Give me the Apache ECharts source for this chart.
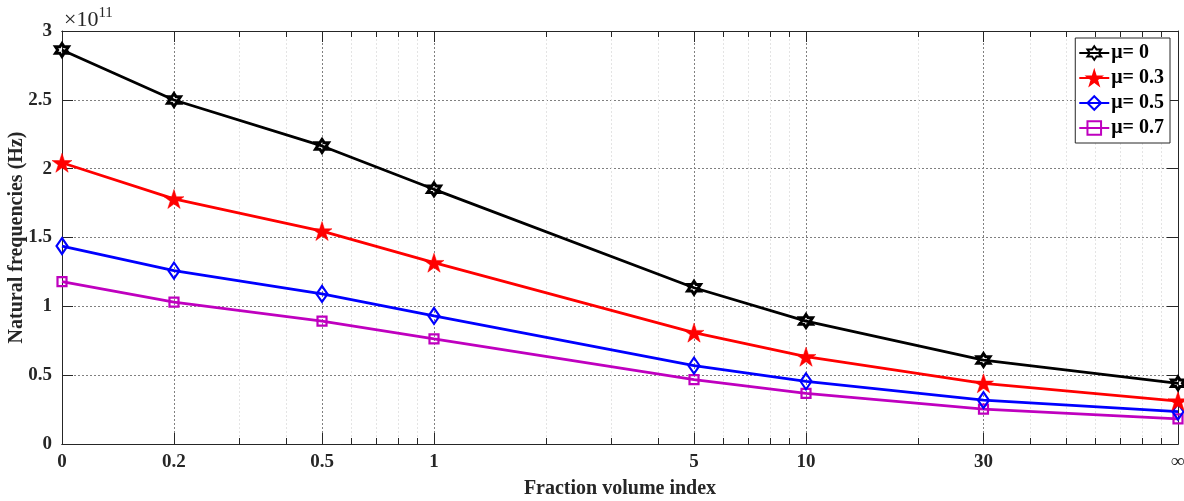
<!DOCTYPE html>
<html><head><meta charset="utf-8">
<script src="https://cdn.jsdelivr.net/npm/echarts@6/dist/echarts.min.js"></script>
<style>html,body{margin:0;padding:0;background:#fff}#c{width:1184px;height:501px}</style>
</head><body><div id="c"></div>
<script>
// x positions (log axis): "0" drawn at 0.1, "∞" drawn at 100
const xValues = [0.1, 0.2, 0.5, 1, 5, 10, 30, 100];
const xLabels = ['0', '0.2', '0.5', '1', '5', '10', '30', '∞'];
const minorTicks = [0.3,0.4,0.6,0.7,0.8,0.9,2,3,4,6,7,8,9,20,40,50,60,70,80,90];
const yTicks = [0, 0.5, 1, 1.5, 2, 2.5, 3];
// natural frequencies in units of 1e11 Hz
const mu0  = [2.862, 2.499, 2.165, 1.850, 1.135, 0.893, 0.610, 0.441];
const mu03 = [2.043, 1.780, 1.547, 1.317, 0.809, 0.634, 0.441, 0.312];
const mu05 = [1.438, 1.259, 1.090, 0.930, 0.569, 0.455, 0.318, 0.235];
const mu07 = [1.179, 1.030, 0.893, 0.763, 0.468, 0.368, 0.254, 0.182];
const seriesNames = ['μ= 0', 'μ= 0.3', 'μ= 0.5', 'μ= 0.7'];

const FONT = '"Liberation Serif", "Times New Roman", serif';
const TXT = '#262626';
const hexagram = 'path://M0,-1 L0.2887,-0.5 L0.866,-0.5 L0.577,0 L0.866,0.5 L0.2887,0.5 L0,1 L-0.2887,0.5 L-0.866,0.5 L-0.577,0 L-0.866,-0.5 L-0.2887,-0.5 Z';
const star5 = 'path://M0,-1 L0.2245,-0.309 L0.951,-0.309 L0.3633,0.118 L0.588,0.809 L0,0.382 L-0.588,0.809 L-0.3633,0.118 L-0.951,-0.309 L-0.2245,-0.309 Z';
const diamond = 'path://M0,-1 L0.7,0 L0,1 L-0.7,0 Z';

function pairs(ys){ return xValues.map((x,i)=>[x, ys[i]]); }

const axisLine = {show:true, onZero:false, lineStyle:{color:TXT, width:1}};
const baseX = {type:'log', logBase:10, min:0.1, max:100, axisLine};

const chart = echarts.init(document.getElementById('c'));
chart.setOption({
  animation:false,
  grid:{left:62, right:6, top:31, bottom:57, containLabel:false, outerBoundsMode:'none'},
  xAxis:[
    Object.assign({}, baseX, {position:'bottom',
      name:'Fraction volume index', nameLocation:'middle', nameGap:35, nameMoveOverlap:false,
      nameTextStyle:{fontFamily:FONT, fontWeight:'bold', fontSize:20, color:TXT},
      axisTick:{show:true, inside:true, length:11, customValues:xValues, lineStyle:{color:TXT}},
      axisLabel:{show:true, customValues:xValues, margin:9, fontFamily:FONT, fontWeight:'bold', fontSize:19, color:TXT,
        formatter:(v)=>{ const i = xValues.findIndex(x=>Math.abs(x-v)<1e-9*Math.max(1,x)); return i>=0?xLabels[i]:''; }},
      splitLine:{show:true, lineStyle:{color:'#808080', type:[2,2], width:1}}
    }),
    Object.assign({}, baseX, {position:'bottom',
      axisTick:{show:true, inside:true, length:6, customValues:minorTicks, lineStyle:{color:TXT}},
      axisLabel:{show:false},
      splitLine:{show:true, lineStyle:{color:'#e4e4e4', type:[2,2], width:1}}
    }),
    Object.assign({}, baseX, {position:'top',
      axisTick:{show:true, inside:true, length:11, customValues:xValues, lineStyle:{color:TXT}},
      axisLabel:{show:false}, splitLine:{show:false}
    }),
    Object.assign({}, baseX, {position:'top',
      axisTick:{show:true, inside:true, length:6, customValues:minorTicks, lineStyle:{color:TXT}},
      axisLabel:{show:false}, splitLine:{show:false}
    })
  ],
  yAxis:[
    {type:'value', min:0, max:3, interval:0.5, position:'left', axisLine,
      name:'Natural frequencies (Hz)', nameLocation:'middle', nameGap:35, nameMoveOverlap:false,
      nameTextStyle:{fontFamily:FONT, fontWeight:'bold', fontSize:20, color:TXT},
      axisTick:{show:true, inside:true, length:11, lineStyle:{color:TXT}},
      axisLabel:{fontFamily:FONT, fontWeight:'bold', fontSize:19, color:TXT, margin:10,
        formatter:(v)=>String(+v.toFixed(1))},
      splitLine:{show:true, lineStyle:{color:'#808080', type:[2,2], width:1}}
    },
    {type:'value', min:0, max:3, interval:0.5, position:'right', axisLine,
      axisTick:{show:true, inside:true, length:11, lineStyle:{color:TXT}},
      axisLabel:{show:false}, splitLine:{show:false}
    }
  ],
  legend:{
    orient:'vertical', right:14, top:38, padding:[5,6,5,3], itemGap:5,
    itemWidth:30, itemHeight:17,
    backgroundColor:'#fff', borderColor:'#262626', borderWidth:1,
    textStyle:{fontFamily:FONT, fontWeight:'bold', fontSize:20, color:'#000', padding:[0,0,0,-3]},
    data:seriesNames
  },
  graphic:[{type:'text', left:64, top:6, style:{
    text:'{a|×10}{b|11}', rich:{
      a:{fontFamily:FONT, fontSize:22, fill:TXT, verticalAlign:'bottom'},
      b:{fontFamily:FONT, fontSize:15, fill:TXT, verticalAlign:'top', padding:[0,0,10,0]}
    }}}],
  series:[
    {name:seriesNames[0], type:'line', data:pairs(mu0), symbol:hexagram, symbolSize:13,
      lineStyle:{color:'#000', width:2.8}, itemStyle:{color:'rgba(255,255,255,0)', borderColor:'#000', borderWidth:3}, z:5},
    {name:seriesNames[1], type:'line', data:pairs(mu03), symbol:star5, symbolSize:[20,19],
      lineStyle:{color:'#ff0000', width:2.8}, itemStyle:{color:'#ff0000', borderColor:'#ff0000', borderWidth:0.5}, z:4},
    {name:seriesNames[2], type:'line', data:pairs(mu05), symbol:diamond, symbolSize:[11,16],
      lineStyle:{color:'#0000ff', width:2.8}, itemStyle:{color:'rgba(255,255,255,0)', borderColor:'#0000ff', borderWidth:2.2}, z:3},
    {name:seriesNames[3], type:'line', data:pairs(mu07), symbol:'rect', symbolSize:9,
      lineStyle:{color:'#bf00bf', width:2.8}, itemStyle:{color:'rgba(255,255,255,0)', borderColor:'#bf00bf', borderWidth:2.2}, z:2}
  ]
});
</script></body></html>
